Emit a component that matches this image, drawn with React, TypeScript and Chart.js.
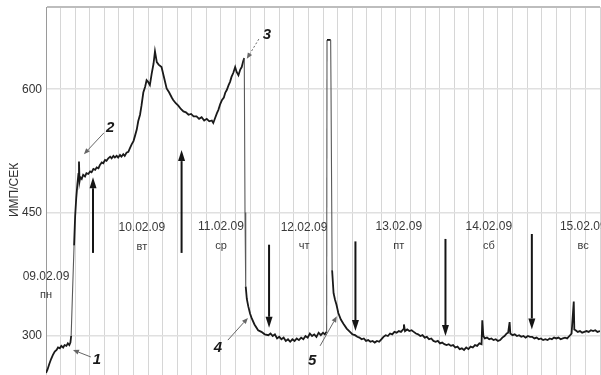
import React, { useEffect, useRef } from 'react';
import { Chart, registerables } from 'chart.js';

Chart.register(...registerables);

const FONT = '"Liberation Sans", Arial, sans-serif';

// time axis: hours since start of 09.02.09 record
const hours = [
  0, 0.4, 0.9, 1.4, 1.9, 2.4, 2.9, 3.3, 3.8, 4.2, 4.7, 5.1, 5.6, 6.0, 6.4, 6.7,
  6.9, 7.3, 7.7, 8.0, 8.3, 8.6, 8.9, 9.05, 9.2, 9.4,
  9.8, 10.2, 10.7, 11.1, 11.6, 12.1, 12.5, 13.0, 13.5, 13.9, 14.4, 14.8, 15.3, 15.7, 16.2, 16.6, 17.1, 17.6, 18.0, 18.5, 18.9, 19.4, 19.8, 20.3, 20.7, 21.2, 21.6, 22.1, 22.6, 23.0,
  23.5, 24.0, 24.4, 24.9, 25.3, 25.8, 26.2, 26.7, 27.2, 27.6, 28.0, 28.5, 29.0, 29.5, 29.9, 30.4,
  30.9, 31.7, 32.4, 33.1, 33.8, 34.5, 34.9, 35.6, 36.3, 37.0, 37.7, 38.4, 39.1, 39.8, 40.5, 41.3, 42.0, 42.7, 43.4, 44.1, 44.8, 45.5, 45.9,
  46.4, 46.9, 47.3, 47.8, 48.3, 48.8, 49.2, 49.6, 50.1, 50.5, 50.9, 51.4, 51.9, 52.3, 52.8, 53.3, 53.7, 54.1, 54.4,
  54.6, 54.8, 55.1, 55.5, 56.0, 56.4, 57.2, 58.2, 59.1, 60.0, 61.0,
  61.6, 62.2, 62.8, 63.4, 64.0, 64.6, 65.2, 65.8, 66.4, 67.0, 67.6, 68.2, 68.8, 69.4, 70.0, 70.6, 71.2, 71.8, 72.4, 73.0, 73.6, 74.2, 74.8, 75.4, 76.0, 76.5, 76.9,
  77.0, 77.1, 78.1, 78.2, 78.5, 78.9, 79.3, 79.7, 80.2, 80.9, 81.6, 82.5, 83.4, 84.1, 84.8,
  85.4, 86.0, 86.6, 87.2, 87.8, 88.4, 89.0, 89.6, 90.2, 90.8,
  91.4, 92.0, 92.6, 93.2, 93.8, 94.4, 95.0, 95.6, 96.2, 96.8,
  97.4, 98.0, 98.2, 98.5, 99.1, 99.7, 100.3, 100.9, 101.5, 102.1,
  102.7, 103.3, 103.9, 104.5, 105.1, 105.7, 106.3, 106.9, 107.5, 108.1,
  108.7, 109.3, 109.9, 110.5, 111.1, 111.7, 112.3, 112.9, 113.5, 114.1,
  114.7, 115.3, 115.9, 116.5, 117.1, 117.7, 118.3, 118.9, 119.5, 119.7,
  120.0, 120.4, 121.0, 121.6, 122.2, 122.8, 123.4, 124.0, 124.6, 125.2,
  125.8, 126.4, 126.8, 127.2, 127.4, 128.0, 128.6, 129.2, 129.8, 130.4,
  131.0, 131.6, 132.2, 132.8, 133.4, 134.0, 134.6, 135.2, 135.8, 136.4,
  137.0, 137.6, 138.2, 138.8, 139.4, 140.0, 140.6, 141.2, 141.8, 142.4,
  143.0, 143.6, 144.2, 144.8, 144.95, 145.3, 145.9, 146.5, 147.1, 147.7,
  148.3, 148.9, 149.5, 150.1, 150.7, 151.3, 152,
];

// count rate, имп/сек
const counts = [
  255, 259, 266, 272, 277, 281, 283, 286, 285, 288, 286, 289, 288, 291, 289, 292,
  300, 356, 410, 446, 468, 484, 497, 512, 488, 493,
  491, 496, 494, 498, 497, 500, 499, 503, 502, 505, 504, 508, 511, 510, 514, 513, 516, 518, 516, 519, 517, 519, 517, 520, 518, 521, 519, 523, 524, 528,
  533, 537, 543, 551, 561, 569, 580, 596, 603, 611, 609, 605, 619, 631, 646, 633,
  630, 627, 614, 601, 596, 590, 587, 583, 580, 576, 573, 572, 569, 570, 567, 567, 564, 566, 562, 564, 561, 562, 559,
  565, 571, 575, 582, 587, 590, 596, 599, 605, 609, 615, 620, 627, 621, 617, 624, 627, 634, 638,
  450, 360, 345, 336, 327, 322, 314, 307, 305, 302, 301,
  303, 300, 302, 297, 299, 296, 298, 294, 296, 293, 296, 294, 297, 295, 298, 296, 300, 298, 303, 300, 302, 299, 304, 301, 304, 302, 305,
  305, 660, 660, 600, 380, 352, 344, 338, 328, 320, 315, 309, 305, 302, 301,
  299, 298, 296, 297, 294, 295, 293, 294, 292, 294,
  293, 296, 299, 301, 300, 303, 302, 305, 304, 306,
  305, 308, 314, 306, 308, 306, 307, 305, 303, 302,
  300, 301, 298, 299, 296, 297, 294, 293, 294, 291,
  292, 290, 289, 290, 288, 289, 286, 287, 284, 285,
  283, 286, 284, 287, 286, 289, 288, 291, 290, 319,
  300, 297, 298, 296, 297, 295, 296, 294, 295, 298,
  300, 303, 304, 317, 303, 301, 302, 300, 301, 299,
  300, 298, 300, 299, 299, 297, 298, 296, 297, 295,
  296, 295, 297, 296, 298, 297, 298, 296, 297, 298,
  297, 300, 303, 342, 308, 307, 305, 306, 304, 305,
  306, 305, 307, 306, 307, 305, 306,
];

const yTicks = [300, 450, 600, 700];
const yTickLabels = ['300', '450', '600', ''];
const gridHours = Array.from({ length: 39 }, (_, i) => i * 4);

// date / weekday annotations (hour position, level)
const dateLabels = ['09.02.09', '10.02.09', '11.02.09', '12.02.09', '13.02.09', '14.02.09', '15.02.09'];
const dayLabels = ['пн', 'вт', 'ср', 'чт', 'пт', 'сб', 'вс'];
const dateHours = [0, 26.3, 48.0, 70.8, 96.8, 121.5, 147.4];
const dateLevels = [372, 432, 433, 432, 433, 433, 433];
const dayLevels = [350, 408, 410, 409, 409, 409, 409];

// bold event arrows
const markerHours = [12.9, 37.2, 61.2, 84.9, 109.6, 133.3];
const markerFrom = [401, 401, 411, 415, 418, 424];
const markerTo = [493, 526, 310, 306, 300, 308];

// numbered callouts
const calloutText = ['1', '2', '3', '4', '5'];
const calloutHours = [14.0, 17.6, 60.6, 47.2, 73.0];
const calloutLevels = [271, 553, 666, 285, 270];
const calloutFromHours = [12.3, 15.9, 58.4, 49.9, 75.2];
const calloutFromLevels = [274.5, 547, 661, 295, 288];
const calloutToHours = [7.4, 10.4, 55.1, 55.4, 79.8];
const calloutToLevels = [283, 521, 637, 322, 324];

function arrow(ctx: CanvasRenderingContext2D, x1: number, y1: number, x2: number, y2: number,
  head: number, halfW: number, width: number, color: string, dash: number[] = []) {
  const ang = Math.atan2(y2 - y1, x2 - x1);
  const bx = x2 - head * Math.cos(ang);
  const by = y2 - head * Math.sin(ang);
  ctx.save();
  ctx.strokeStyle = color;
  ctx.fillStyle = color;
  ctx.lineWidth = width;
  ctx.setLineDash(dash);
  ctx.beginPath();
  ctx.moveTo(x1, y1);
  ctx.lineTo(bx, by);
  ctx.stroke();
  ctx.setLineDash([]);
  ctx.beginPath();
  ctx.moveTo(x2, y2);
  ctx.lineTo(bx + halfW * Math.sin(ang), by - halfW * Math.cos(ang));
  ctx.lineTo(bx - halfW * Math.sin(ang), by + halfW * Math.cos(ang));
  ctx.closePath();
  ctx.fill();
  ctx.restore();
}

export default function App() {
  const ref = useRef<HTMLCanvasElement>(null);

  useEffect(() => {
    document.body.style.margin = '0';
    const canvas = ref.current;
    if (!canvas) return;

    const annotations = {
      id: 'annotations',
      afterDraw(chart: any) {
        const ctx = chart.ctx as CanvasRenderingContext2D;
        const xs = chart.scales.x;
        const ys = chart.scales.y;
        const px = (h: number) => xs.getPixelForValue(h);
        const py = (v: number) => ys.getPixelForValue(v);
        ctx.save();
        ctx.textAlign = 'center';
        ctx.textBaseline = 'middle';
        ctx.fillStyle = '#3a3a3a';
        dateLabels.forEach((t, i) => {
          ctx.font = `12px ${FONT}`;
          ctx.fillText(t, px(dateHours[i]), py(dateLevels[i]));
          ctx.font = `11px ${FONT}`;
          ctx.fillText(dayLabels[i], px(dateHours[i]), py(dayLevels[i]));
        });
        markerHours.forEach((h, i) => {
          arrow(ctx, px(h), py(markerFrom[i]), px(h), py(markerTo[i]), 11, 3.5, 2, '#151515');
        });
        calloutText.forEach((t, i) => {
          arrow(ctx, px(calloutFromHours[i]), py(calloutFromLevels[i]), px(calloutToHours[i]), py(calloutToLevels[i]),
            6, 2.5, 1, '#666', i === 2 ? [2, 2] : []);
          ctx.font = `italic bold 15px ${FONT}`;
          ctx.fillStyle = '#1a1a1a';
          ctx.fillText(t, px(calloutHours[i]), py(calloutLevels[i]));
        });
        ctx.restore();
      },
    };

    const chart = new Chart(canvas, {
      type: 'line',
      data: {
        datasets: [
          {
            data: hours.map((h, i) => ({ x: h, y: counts[i] })),
            borderColor: '#1a1a1a',
            borderWidth: 1.8,
            pointRadius: 0,
            tension: 0,
            fill: false,
            segment: {
              borderColor: (c: any) =>
                Math.abs(c.p1.parsed.y - c.p0.parsed.y) > 40 ? '#5a5a5a' : undefined,
              borderWidth: (c: any) =>
                Math.abs(c.p1.parsed.y - c.p0.parsed.y) > 40 ? 1.1 : undefined,
            },
          },
        ],
      },
      options: {
        responsive: false,
        animation: false,
        devicePixelRatio: 1,
        layout: { padding: { top: 7, right: 1, left: 0, bottom: 0 } },
        plugins: { legend: { display: false }, tooltip: { enabled: false } },
        scales: {
          x: {
            type: 'linear',
            min: 0,
            max: 152,
            afterBuildTicks: (s: any) => {
              s.ticks = gridHours.map((v) => ({ value: v }));
            },
            ticks: { display: false },
            grid: { color: '#d6d6d6', lineWidth: 1, drawTicks: true, tickLength: 2 },
            border: { display: false },
            afterFit: (s: any) => {
              s.height = 2;
            },
          },
          y: {
            min: 255,
            max: 700,
            afterBuildTicks: (s: any) => {
              s.ticks = yTicks.map((v) => ({ value: v }));
            },
            ticks: {
              color: '#333',
              padding: 4,
              font: { size: 12, family: FONT },
              callback: (_v: any, i: number) => yTickLabels[i],
            },
            grid: {
              color: (c: any) => (c.tick && c.tick.value === 700 ? '#bdbdbd' : '#e0e0e0'),
              lineWidth: (c: any) => (c.tick && c.tick.value === 700 ? 2 : 1.5),
              drawTicks: false,
            },
            border: { display: true, color: '#9a9a9a', width: 1 },
            title: {
              display: true,
              text: 'ИМП/СЕК',
              color: '#333',
              font: { size: 12, family: FONT },
              padding: { top: 7, bottom: 0 },
            },
            afterFit: (s: any) => {
              s.width = 46;
              s.paddingTop = 0;
              s.paddingBottom = 0;
            },
          },
        },
      },
      plugins: [annotations],
    } as any);

    return () => chart.destroy();
  }, []);

  return (
    <div style={{ width: 601, height: 375 }}>
      <canvas ref={ref} width={601} height={375} style={{ display: 'block' }} />
    </div>
  );
}
